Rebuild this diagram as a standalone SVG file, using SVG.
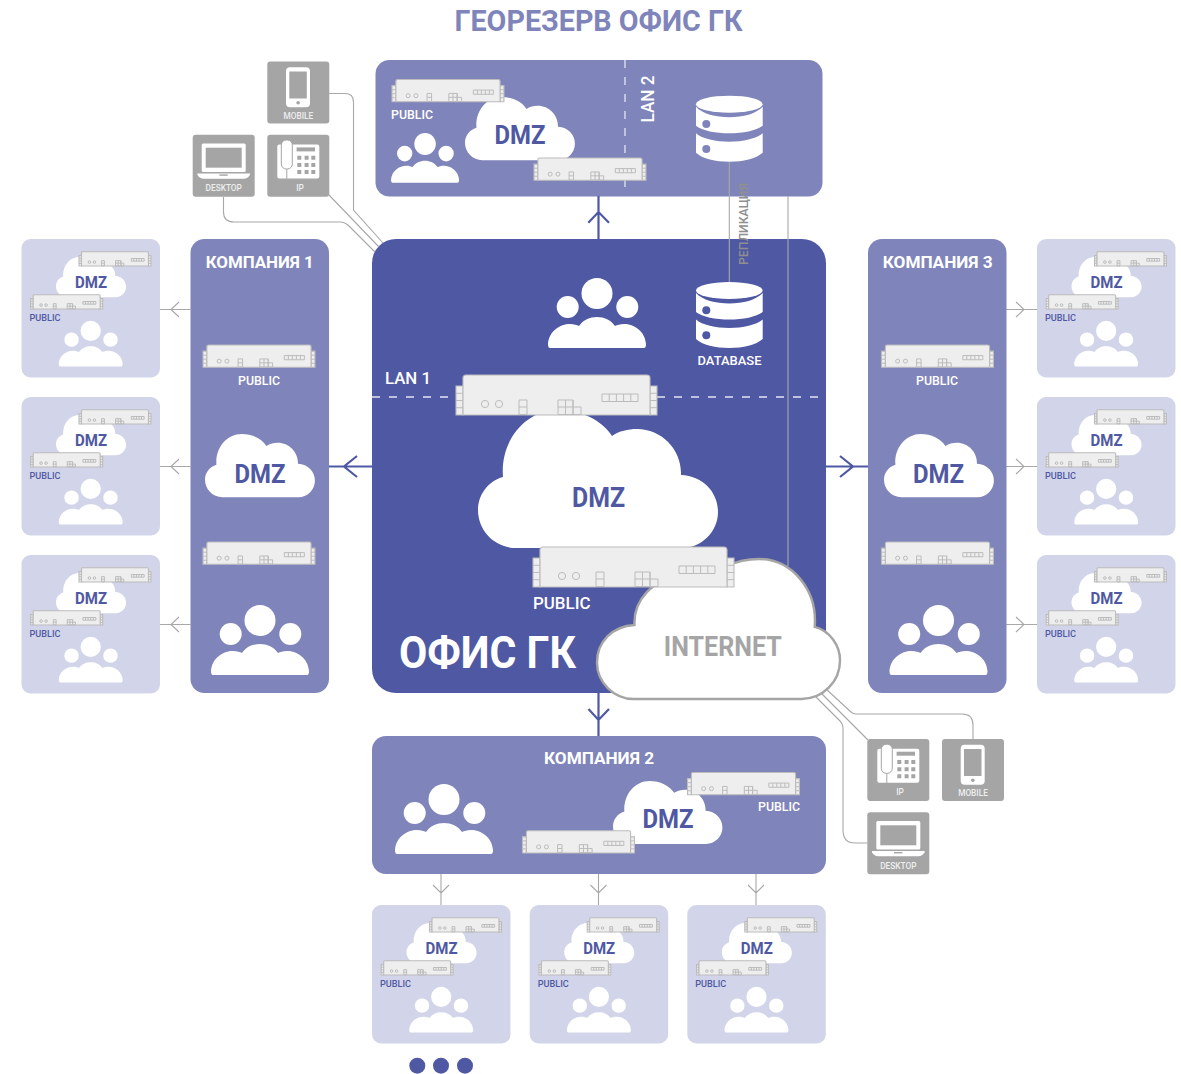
<svg xmlns="http://www.w3.org/2000/svg" width="1181" height="1074" viewBox="0 0 1181 1074">
<style>
text{font-family:Roboto,"Liberation Sans","Noto Sans",sans-serif;font-weight:700}
.w{fill:#fff}.b{fill:#4f58a3}.m{fill:#7f85ba}.l{fill:#d2d5e9}.g{fill:#a5a5a5}
.mid{text-anchor:middle}
.rb{fill:#eee;stroke:#bcbcbc;stroke-width:1.1;vector-effect:non-scaling-stroke}
.rl{fill:none;stroke:#bcbcbc;stroke-width:1;vector-effect:non-scaling-stroke}
.ln{fill:none;stroke:#a8a8a8;stroke-width:1.1}
.ar{fill:none;stroke:#4f58a3;stroke-width:2.2}
.dash{fill:none;stroke:#e4e5f1;stroke-width:1.3;stroke-dasharray:8 9}
.title{font-size:17px;fill:#fff}
.pub{font-size:12.5px;fill:#fff;font-weight:500}
.mp{font-size:9.8px;fill:#4f58a3;font-weight:500}
.dz{font-size:17px;fill:#4f58a3;text-anchor:middle}
.dl{font-size:25px;fill:#4f58a3;text-anchor:middle}
.dv{font-size:8.3px;fill:#eee;text-anchor:middle;font-weight:500}
</style>
<defs>
<g id="router">
<path class="rb" d="M0,11H7V40H0ZM194,11H201V40H194Z"/>
<path class="rl" d="M0,18.3H7M0,25.5H7M0,32.7H7M194,18.3H201M194,25.5H201M194,32.7H201"/>
<path class="rb" d="M7,40V3Q7,0 10,0H191Q194,0 194,3V40Z"/>
<circle class="rl" cx="29" cy="29" r="3.6"/><circle class="rl" cx="43" cy="29" r="3.6"/>
<path class="rl" d="M63,25H71V39.5H63ZM63,32H71M102,25H117V39.5H102ZM102,32H125V39.5H117V25M109.5,25V39.5M146,19H182V26.5H146ZM153.2,19V26.5M160.4,19V26.5M167.6,19V26.5M174.8,19V26.5"/>
</g>
<path id="cloud" d="M25,67C22,30 48,0 80,0C103,0 124,10 134,26C141,21 150,19 159,19C184,19 204,40 203,65C225,66 240,82 240,102C240,122 223,138 204,138H38C17,138 0,121 0,100C0,85 10,71 25,67Z"/>
<g id="people">
<circle cx="49" cy="15.5" r="15.5"/><circle cx="19.7" cy="29" r="11"/><circle cx="79.3" cy="29" r="11"/>
<path d="M2,70Q0,70 0,66C1,53 12,46 22,46C26,46 29,47 31,48C35,42 42,39 49,39C56,39 63,42 67,48C69,47 72,46 76,46C86,46 97,53 98,66Q98,70 96,70Z"/>
</g>
<g id="db">
<ellipse cx="33.3" cy="8.5" rx="33.3" ry="8.5" fill="#fff"/>
<path fill="#fff" d="M0,11C6,18 20,21.5 33.3,21.5C47,21.5 60,18 66.7,11V30C60,35 47,37.5 33.3,37.5C20,37.5 6,35 0,30ZM0,37.5C6,43 20,46 33.3,46C47,46 60,43 66.7,37.5V57C60,63 47,66 33.3,66C20,66 6,63 0,57Z"/>
<circle cx="10.3" cy="28.3" r="4" fill="currentColor"/><circle cx="10.3" cy="53.3" r="4" fill="currentColor"/>
</g>
<g id="phone">
<rect width="62" height="62" rx="3" fill="#a5a5a5"/>
<rect x="18.7" y="5.7" width="24" height="40" rx="4" fill="#fff"/><rect x="22" y="10" width="17.5" height="27" fill="#a5a5a5"/><circle cx="30.8" cy="41.3" r="1.8" fill="#a5a5a5"/>
</g>
<g id="laptop">
<rect width="62" height="62" rx="3" fill="#a5a5a5"/>
<rect x="9" y="8.7" width="44" height="28.6" rx="1.5" fill="#fff"/><rect x="13" y="13" width="36" height="20" fill="#a5a5a5"/>
<path d="M4.7,38.7H57.3V40Q55,44 51,44H11Q7,44 4.7,40Z" fill="#fff"/><rect x="26.7" y="39.7" width="8.3" height="1.4" fill="#a5a5a5"/>
</g>
<g id="desk">
<rect width="62" height="62" rx="3" fill="#a5a5a5"/>
<path d="M12,9.7H50Q52,9.7 52,11.7V41.7Q52,43.7 50,43.7H12Q10,43.7 10,41.7V11.7Q10,9.7 12,9.7Z" fill="#fff"/>
<path d="M19.5,34V44" stroke="#a5a5a5" stroke-width="1" fill="none"/>
<rect x="14" y="5.3" width="11" height="29" rx="5" fill="#fff" stroke="#a5a5a5" stroke-width="1"/>
<rect x="29.3" y="12.7" width="18.4" height="4" fill="#a5a5a5"/>
<path fill="#a5a5a5" d="M30,21h4v4h-4zM37.3,21h4v4h-4zM44,21h4v4h-4zM30,28.3h4v4h-4zM37.3,28.3h4v4h-4zM44,28.3h4v4h-4zM30,35.3h4v4h-4zM37.3,35.3h4v4h-4zM44,35.3h4v4h-4z"/>
</g>
</defs>

<text id="page-title" x="598.5" y="30.7" class="mid m" style="font-size:30px" textLength="288" lengthAdjust="spacingAndGlyphs">ГЕОРЕЗЕРВ ОФИС ГК</text>

<g id="office"><rect x="372" y="239" width="454" height="454" rx="24" class="b"/></g>

<g id="georeserve">
<rect x="375.5" y="60" width="447" height="136.5" rx="14" class="m"/>
<path class="dash" d="M625,60V196"/>
<use href="#cloud" transform="translate(465,97) scale(.458)" fill="#fff"/>
<use href="#router" transform="translate(392,79.5) scale(.557)"/>
<text x="391" y="119.3" class="pub" textLength="42" lengthAdjust="spacingAndGlyphs">PUBLIC</text>
<text x="520" y="144" class="dl" textLength="51" lengthAdjust="spacingAndGlyphs">DMZ</text>
<use href="#router" transform="translate(534,158) scale(.557)"/>
<use href="#people" transform="translate(391,133) scale(.695,.71)" fill="#fff"/>
<text transform="translate(653.5,122.5) rotate(-90)" style="font-size:18px;font-weight:500" class="w" textLength="47" lengthAdjust="spacingAndGlyphs">LAN 2</text>
<use href="#db" transform="translate(696,95.7)" style="color:#7f85ba"/>
</g>

<g id="connectors">
<path class="ln" d="M729.3,162V282M788,196V566"/>
<path class="ln" d="M329,93.5H345Q353.5,93.5 353.5,102V210L383,243M329,195L379,247M223.5,197V212Q223.5,222 234,222H340Q345,222 349,226L375,252"/>
<path class="ln" d="M826,689L851,712Q853,714 856,714H962Q973,714 973,725V739M820,692L868,740M815,696L840,721Q843,724 843,729V830Q843,843 855,843H867.5"/>
<path class="ar" d="M598.5,239V196M588.3,222.7L598.5,212L609,222.7"/>
<path class="ar" d="M372,466.5H329M357,456L344,466.5L357,477"/>
<path class="ar" d="M826,466.5H868M840,456L853,466.5L840,477"/>
<path class="ar" d="M598.5,693V736M588.5,709L598.5,720L609,709"/>
<path class="ln" d="M190.5,309.5H160M179,302L171,309.5L179,317M190.5,466.5H160M179,459L171,466.5L179,474M190.5,624.5H160M179,617L171,624.5L179,632"/>
<path class="ln" d="M1006,309.5H1037M1016,302L1024,309.5L1016,317M1006,466.5H1037M1016,459L1024,466.5L1016,474M1006,624.5H1037M1016,617L1024,624.5L1016,632"/>
<path class="ln" d="M441,874V905M433,885L441,893L449,885M598.5,874V905M590.5,885L598.5,893L606.5,885M756,874V905M748,885L756,893L764,885"/>
</g>
<text id="replication" transform="translate(747.5,265) rotate(-90)" style="font-size:13px;font-weight:500;fill:#8f8f8f" textLength="82" lengthAdjust="spacingAndGlyphs">РЕПЛИКАЦИЯ</text>

<g id="internet">
<use href="#cloud" transform="translate(840,559) scale(-1.0125,1.014)" fill="#fff" stroke="#a5a5a5" stroke-width="2.4"/>
<text x="722.8" y="655.7" class="mid g" style="font-size:27px" textLength="118" lengthAdjust="spacingAndGlyphs">INTERNET</text>
</g>

<g id="office-content">
<use href="#people" transform="translate(548,278)" fill="#fff"/>
<use href="#db" transform="translate(696,282)" style="color:#4f58a3"/>
<text x="729.5" y="365" class="mid w" style="font-size:12.5px;font-weight:500" textLength="64" lengthAdjust="spacingAndGlyphs">DATABASE</text>
<text x="385" y="384" class="w" style="font-size:17px;font-weight:500" textLength="46" lengthAdjust="spacingAndGlyphs">LAN 1</text>
<path class="dash" d="M372,397H458M657,397H826"/>
<use href="#cloud" transform="translate(478,410)" fill="#fff"/>
<use href="#router" transform="translate(456,375)"/>
<text x="598.5" y="507.3" class="mid b" style="font-size:27px" textLength="53" lengthAdjust="spacingAndGlyphs">DMZ</text>
<use href="#router" transform="translate(533,547)"/>
<text x="533" y="608.5" class="w" style="font-size:16.5px;font-weight:500" textLength="57.5" lengthAdjust="spacingAndGlyphs">PUBLIC</text>
<text x="399" y="668" class="w" style="font-size:45px" textLength="177" lengthAdjust="spacingAndGlyphs">ОФИС ГК</text>
</g>

<g id="company-1">
<rect x="190.5" y="239" width="138.5" height="454" rx="14" class="m"/>
<text x="259.7" y="268" class="title mid" textLength="108" lengthAdjust="spacingAndGlyphs">КОМПАНИЯ 1</text>
<use href="#router" transform="translate(203,345) scale(.557)"/>
<text x="259" y="384.5" class="pub mid" textLength="42" lengthAdjust="spacingAndGlyphs">PUBLIC</text>
<use href="#cloud" transform="translate(205,434) scale(.458)" fill="#fff"/>
<text x="260" y="483" class="dl" textLength="51" lengthAdjust="spacingAndGlyphs">DMZ</text>
<use href="#router" transform="translate(203,542) scale(.557)"/>
<use href="#people" transform="translate(211,605)" fill="#fff"/>
</g>
<g id="company-3">
<rect x="868" y="239" width="138.5" height="454" rx="14" class="m"/>
<text x="937.7" y="268" class="title mid" textLength="110" lengthAdjust="spacingAndGlyphs">КОМПАНИЯ 3</text>
<use href="#router" transform="translate(881.5,345) scale(.557)"/>
<text x="937" y="384.5" class="pub mid" textLength="42" lengthAdjust="spacingAndGlyphs">PUBLIC</text>
<use href="#cloud" transform="translate(884,434) scale(.458)" fill="#fff"/>
<text x="938.5" y="483" class="dl" textLength="51" lengthAdjust="spacingAndGlyphs">DMZ</text>
<use href="#router" transform="translate(881.5,542) scale(.557)"/>
<use href="#people" transform="translate(889.5,605)" fill="#fff"/>
</g>
<g id="company-2">
<rect x="372" y="736" width="454" height="138" rx="14" class="m"/>
<text x="599" y="763.5" class="title mid" textLength="110" lengthAdjust="spacingAndGlyphs">КОМПАНИЯ 2</text>
<use href="#people" transform="translate(395,784)" fill="#fff"/>
<use href="#cloud" transform="translate(613,781) scale(.456)" fill="#fff"/>
<use href="#router" transform="translate(522.5,830.7) scale(.557)"/>
<use href="#router" transform="translate(687.5,772.5) scale(.557)"/>
<text x="668" y="827.7" class="dl" textLength="51" lengthAdjust="spacingAndGlyphs">DMZ</text>
<text x="800" y="811" class="pub" style="text-anchor:end" textLength="42" lengthAdjust="spacingAndGlyphs">PUBLIC</text>
</g>

<g id="sub-1-1" transform="translate(21.5,239)"><rect width="138.5" height="138.5" rx="9" class="l"/><use href="#cloud" transform="translate(34.5,18) scale(.292)" fill="#fff"/><use href="#router" transform="translate(57.5,12.7) scale(.358)"/><use href="#router" transform="translate(9.2,55.7) scale(.358)"/><text x="69.5" y="48.5" class="dz" textLength="32" lengthAdjust="spacingAndGlyphs">DMZ</text><text x="8" y="82" class="mp" textLength="31" lengthAdjust="spacingAndGlyphs">PUBLIC</text><use href="#people" transform="translate(37.2,81.7) scale(.653)" fill="#fff"/></g>
<g id="sub-1-2" transform="translate(21.5,397)"><rect width="138.5" height="138.5" rx="9" class="l"/><use href="#cloud" transform="translate(34.5,18) scale(.292)" fill="#fff"/><use href="#router" transform="translate(57.5,12.7) scale(.358)"/><use href="#router" transform="translate(9.2,55.7) scale(.358)"/><text x="69.5" y="48.5" class="dz" textLength="32" lengthAdjust="spacingAndGlyphs">DMZ</text><text x="8" y="82" class="mp" textLength="31" lengthAdjust="spacingAndGlyphs">PUBLIC</text><use href="#people" transform="translate(37.2,81.7) scale(.653)" fill="#fff"/></g>
<g id="sub-1-3" transform="translate(21.5,555)"><rect width="138.5" height="138.5" rx="9" class="l"/><use href="#cloud" transform="translate(34.5,18) scale(.292)" fill="#fff"/><use href="#router" transform="translate(57.5,12.7) scale(.358)"/><use href="#router" transform="translate(9.2,55.7) scale(.358)"/><text x="69.5" y="48.5" class="dz" textLength="32" lengthAdjust="spacingAndGlyphs">DMZ</text><text x="8" y="82" class="mp" textLength="31" lengthAdjust="spacingAndGlyphs">PUBLIC</text><use href="#people" transform="translate(37.2,81.7) scale(.653)" fill="#fff"/></g>
<g id="sub-3-1" transform="translate(1037,239)"><rect width="138.5" height="138.5" rx="9" class="l"/><use href="#cloud" transform="translate(34.5,18) scale(.292)" fill="#fff"/><use href="#router" transform="translate(57.5,12.7) scale(.358)"/><use href="#router" transform="translate(9.2,55.7) scale(.358)"/><text x="69.5" y="48.5" class="dz" textLength="32" lengthAdjust="spacingAndGlyphs">DMZ</text><text x="8" y="82" class="mp" textLength="31" lengthAdjust="spacingAndGlyphs">PUBLIC</text><use href="#people" transform="translate(37.2,81.7) scale(.653)" fill="#fff"/></g>
<g id="sub-3-2" transform="translate(1037,397)"><rect width="138.5" height="138.5" rx="9" class="l"/><use href="#cloud" transform="translate(34.5,18) scale(.292)" fill="#fff"/><use href="#router" transform="translate(57.5,12.7) scale(.358)"/><use href="#router" transform="translate(9.2,55.7) scale(.358)"/><text x="69.5" y="48.5" class="dz" textLength="32" lengthAdjust="spacingAndGlyphs">DMZ</text><text x="8" y="82" class="mp" textLength="31" lengthAdjust="spacingAndGlyphs">PUBLIC</text><use href="#people" transform="translate(37.2,81.7) scale(.653)" fill="#fff"/></g>
<g id="sub-3-3" transform="translate(1037,555)"><rect width="138.5" height="138.5" rx="9" class="l"/><use href="#cloud" transform="translate(34.5,18) scale(.292)" fill="#fff"/><use href="#router" transform="translate(57.5,12.7) scale(.358)"/><use href="#router" transform="translate(9.2,55.7) scale(.358)"/><text x="69.5" y="48.5" class="dz" textLength="32" lengthAdjust="spacingAndGlyphs">DMZ</text><text x="8" y="82" class="mp" textLength="31" lengthAdjust="spacingAndGlyphs">PUBLIC</text><use href="#people" transform="translate(37.2,81.7) scale(.653)" fill="#fff"/></g>
<g id="sub-2-1" transform="translate(372,905)"><rect width="138.5" height="138.5" rx="9" class="l"/><use href="#cloud" transform="translate(34.5,18) scale(.292)" fill="#fff"/><use href="#router" transform="translate(57.5,12.7) scale(.358)"/><use href="#router" transform="translate(9.2,55.7) scale(.358)"/><text x="69.5" y="48.5" class="dz" textLength="32" lengthAdjust="spacingAndGlyphs">DMZ</text><text x="8" y="82" class="mp" textLength="31" lengthAdjust="spacingAndGlyphs">PUBLIC</text><use href="#people" transform="translate(37.2,81.7) scale(.653)" fill="#fff"/></g>
<g id="sub-2-2" transform="translate(529.7,905)"><rect width="138.5" height="138.5" rx="9" class="l"/><use href="#cloud" transform="translate(34.5,18) scale(.292)" fill="#fff"/><use href="#router" transform="translate(57.5,12.7) scale(.358)"/><use href="#router" transform="translate(9.2,55.7) scale(.358)"/><text x="69.5" y="48.5" class="dz" textLength="32" lengthAdjust="spacingAndGlyphs">DMZ</text><text x="8" y="82" class="mp" textLength="31" lengthAdjust="spacingAndGlyphs">PUBLIC</text><use href="#people" transform="translate(37.2,81.7) scale(.653)" fill="#fff"/></g>
<g id="sub-2-3" transform="translate(687.3,905)"><rect width="138.5" height="138.5" rx="9" class="l"/><use href="#cloud" transform="translate(34.5,18) scale(.292)" fill="#fff"/><use href="#router" transform="translate(57.5,12.7) scale(.358)"/><use href="#router" transform="translate(9.2,55.7) scale(.358)"/><text x="69.5" y="48.5" class="dz" textLength="32" lengthAdjust="spacingAndGlyphs">DMZ</text><text x="8" y="82" class="mp" textLength="31" lengthAdjust="spacingAndGlyphs">PUBLIC</text><use href="#people" transform="translate(37.2,81.7) scale(.653)" fill="#fff"/></g>

<g id="dev-mobile-1" transform="translate(267.3,61.5)"><use href="#phone"/><text x="31" y="57" class="dv">MOBILE</text></g>
<g id="dev-desktop-1" transform="translate(192.7,134.7)"><use href="#laptop"/><text x="31" y="56.3" class="dv">DESKTOP</text></g>
<g id="dev-ip-1" transform="translate(267.3,134.7)"><use href="#desk"/><text x="32.7" y="56.3" class="dv">IP</text></g>
<g id="dev-ip-2" transform="translate(867.3,739)"><use href="#desk"/><text x="32.7" y="56.3" class="dv">IP</text></g>
<g id="dev-mobile-2" transform="translate(942,739)"><use href="#phone"/><text x="31" y="57" class="dv">MOBILE</text></g>
<g id="dev-desktop-2" transform="translate(867.3,812.3)"><use href="#laptop"/><text x="31" y="56.3" class="dv">DESKTOP</text></g>

<g id="ellipsis" class="b"><circle cx="417.3" cy="1065.7" r="8"/><circle cx="441" cy="1065.7" r="8"/><circle cx="465" cy="1065.7" r="8"/></g>
</svg>
